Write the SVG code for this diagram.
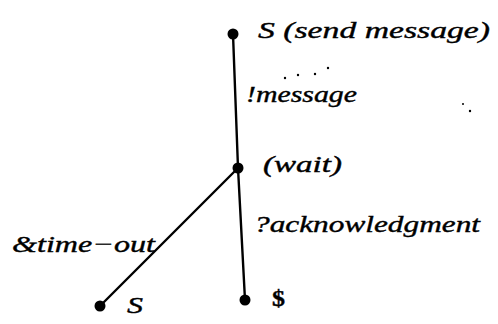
<svg xmlns="http://www.w3.org/2000/svg" width="498" height="324" viewBox="0 0 498 324">
<style>
text{font-family:"Liberation Serif","DejaVu Serif",serif;font-style:italic;font-size:24px;fill:#000;stroke:#000;stroke-width:0.4}
.e{stroke:#000;stroke-width:2.4;fill:none;stroke-linecap:round}
.n{fill:#000}
</style>
<rect width="498" height="324" fill="#fff"/>
<g id="connectors">
<line class="e" x1="233" y1="34" x2="238" y2="168"/>
<line class="e" x1="238" y1="168" x2="245" y2="300"/>
<line class="e" x1="238" y1="168" x2="100" y2="306"/>
<text x="246" y="102" textLength="111" lengthAdjust="spacingAndGlyphs">!message</text>
<text x="254" y="232" textLength="226" lengthAdjust="spacingAndGlyphs">?acknowledgment</text>
<text x="12" y="252" textLength="143" lengthAdjust="spacingAndGlyphs">&amp;time−out</text>
</g>
<g id="node-send">
<circle class="n" cx="233" cy="34" r="5.5"/>
<text x="258" y="38" textLength="232" lengthAdjust="spacingAndGlyphs">S  (send message)</text>
</g>
<g id="node-wait">
<circle class="n" cx="238" cy="168" r="5.5"/>
<text x="263" y="172" textLength="79" lengthAdjust="spacingAndGlyphs">(wait)</text>
</g>
<g id="node-s">
<circle class="n" cx="100" cy="306" r="5.5"/>
<text x="127" y="313" textLength="16" lengthAdjust="spacingAndGlyphs">S</text>
</g>
<g id="node-dollar">
<circle class="n" cx="245" cy="300" r="5.5"/>
<text x="272" y="306" style="font-weight:bold;font-style:normal" textLength="13" lengthAdjust="spacingAndGlyphs">$</text>
</g>
<g id="specks" fill="#000">
<circle cx="285" cy="78" r="1.2"/>
<circle cx="298" cy="75" r="1.2"/>
<circle cx="315" cy="74" r="1.2"/>
<circle cx="328" cy="68" r="1.2"/>
<circle cx="463" cy="104" r="1"/>
<circle cx="470" cy="111" r="1.2"/>
</g>
</svg>
